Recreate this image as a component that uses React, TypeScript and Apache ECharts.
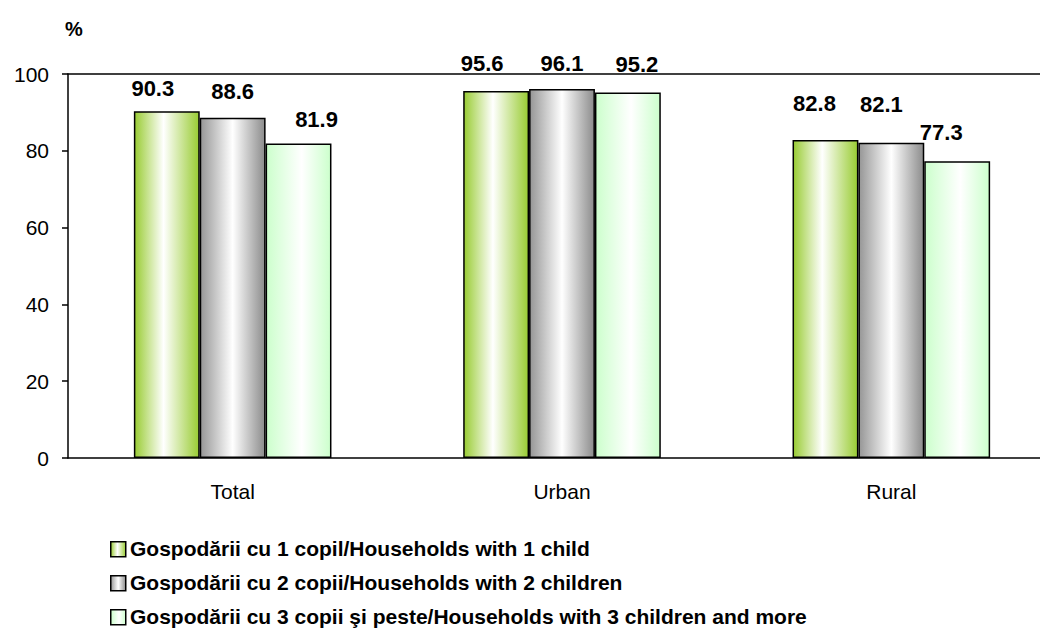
import React, { useEffect, useRef } from "react";
import * as echarts from "echarts";

const categories = ["Total", "Urban", "Rural"];
const seriesNames = [
  "Gospodării cu 1 copil/Households with 1 child",
  "Gospodării cu 2 copii/Households with 2 children",
  "Gospodării cu 3 copii şi peste/Households with 3 children and more",
];
const oneChild = [90.3, 95.6, 82.8];
const twoChildren = [88.6, 96.1, 82.1];
const threePlus = [81.9, 95.2, 77.3];
const yTicks = { min: 0, max: 100, interval: 20 };

const FONT = "'Liberation Sans', Arial, sans-serif";

// label nudges (px) as placed in the original chart: [series][category] -> [dx, dy]
const labelNudges: [number, number][][] = [
  [[-14, 0], [-14, -4], [-11, -14]],
  [[0, -3], [0, -2], [-10, -15]],
  [[18, -1], [9, -5], [-16, -6]],
];

function grad(edgeL: string, edgeR: string, mid: number) {
  return new echarts.graphic.LinearGradient(0, 0, 1, 0, [
    { offset: 0, color: edgeL },
    { offset: mid, color: "#ffffff" },
    { offset: 1, color: edgeR },
  ]);
}

export default function App() {
  const ref = useRef<HTMLDivElement>(null);
  useEffect(() => {
    if (!ref.current) return;
    const chart = echarts.init(ref.current, null, { renderer: "svg" });
    const gradSpecs: [string, string, number][] = [
      ["#99cc33", "#99cc33", 0.45],
      ["#969696", "#8c8c8c", 0.5],
      ["#ccffcc", "#ccffcc", 0.55],
    ];
    const colors = gradSpecs.map((g) => grad(g[0], g[1], g[2]));
    const data = [oneChild, twoChildren, threePlus];
    const legendTop = 541;
    const legendStep = 34;
    const legendGraphics: any[] = [];
    seriesNames.forEach((name, i) => {
      legendGraphics.push({
        type: "rect",
        left: 110,
        top: legendTop + i * legendStep,
        shape: { width: 15, height: 15 },
        style: { fill: grad(gradSpecs[i][0], gradSpecs[i][1], gradSpecs[i][2]), stroke: "#000", lineWidth: 1.5 },
      });
      legendGraphics.push({
        type: "text",
        left: 130,
        top: legendTop + i * legendStep - 3,
        style: { text: name, font: `bold 21px ${FONT}`, fill: "#000" },
      });
    });
    chart.setOption({
      animation: false,
      textStyle: { fontFamily: FONT },
      grid: { left: 68, top: 74, width: 988, height: 384, containLabel: false },
      graphic: [
        {
          type: "text",
          left: 65,
          top: 19,
          style: { text: "%", font: `bold 20px ${FONT}`, fill: "#000" },
        },
        ...legendGraphics,
      ],
      xAxis: [
        {
          type: "category",
          data: categories,
          axisLine: { lineStyle: { color: "#000", width: 1.5 } },
          axisTick: { length: 8, lineStyle: { color: "#000", width: 1.5 } },
          axisLabel: { fontSize: 21, color: "#000", margin: 23, fontFamily: FONT },
        },
        {
          type: "category",
          data: categories,
          position: "top",
          axisLine: { lineStyle: { color: "#000", width: 1.5 } },
          axisTick: { show: false },
          axisLabel: { show: false },
        },
      ],
      yAxis: {
        type: "value",
        min: yTicks.min,
        max: yTicks.max,
        interval: yTicks.interval,
        splitLine: { show: false },
        axisLine: { show: true, lineStyle: { color: "#000", width: 1.5 } },
        axisTick: { show: true, length: 6, lineStyle: { color: "#000", width: 1.5 } },
        axisLabel: { fontSize: 21, color: "#000", margin: 19, fontFamily: FONT },
      },
      series: seriesNames.map((name, i) => ({
        name,
        type: "bar",
        data: data[i].map((v, j) => ({
          value: v,
          label: { offset: labelNudges[i][j] },
        })),
        barGap: "0%",
        barCategoryGap: "40%",
        itemStyle: { color: colors[i], borderColor: "#000", borderWidth: 1.5 },
        label: {
          show: true,
          position: "top",
          distance: 12,
          fontSize: 22,
          fontWeight: "bold",
          color: "#000",
          fontFamily: FONT,
          formatter: (p: any) => Number(p.value).toFixed(1),
        },
      })),
    });
    return () => chart.dispose();
  }, []);
  return (
    <div style={{ position: "fixed", left: 0, top: 0, width: 1040, height: 633, overflow: "hidden", background: "#fff" }}>
      <div ref={ref} style={{ width: 1080, height: 633 }} />
    </div>
  );
}
